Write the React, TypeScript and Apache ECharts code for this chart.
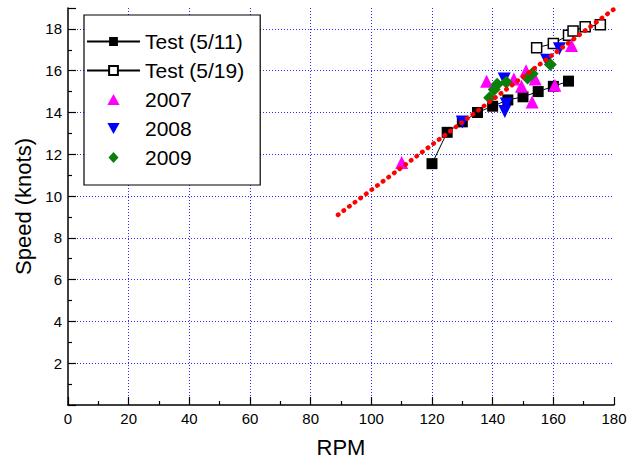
import React, { useEffect, useRef } from "react";
import * as echarts from "echarts";

// RPM / speed (knots) pairs
const test0511: [number, number][] = [
  [120, 11.55], [125, 13.05], [130, 13.55], [135, 14.0], [140, 14.3],
  [145, 14.6], [150, 14.75], [155, 15.0], [160, 15.25], [165, 15.5],
];
const test0519: [number, number][] = [
  [154.5, 17.1], [160, 17.3], [165, 17.7], [166.5, 17.9], [170.5, 18.1], [175.5, 18.2],
];
const data2007: [number, number][] = [
  [110, 11.6], [138, 15.5], [147, 15.6], [149.5, 15.25], [151, 16.0],
  [154, 15.6], [153, 14.5], [160.5, 15.3], [166, 17.2],
];
const data2008: [number, number][] = [
  [130, 13.55], [143.8, 15.6], [144.5, 14.4], [144, 14.05], [157.8, 16.5], [162, 17.05],
];
const data2009: [number, number][] = [
  [139, 14.7], [140.5, 15.1], [141.5, 15.35], [144.5, 15.45], [151.5, 15.65],
  [153, 15.85], [159, 16.3],
];
const fitLine: [number, number][] = [[89, 9.1], [180, 18.95]];

const FONT = "'Liberation Sans', Arial, sans-serif";
const ICON_UP = "path://M5,0L10,9L0,9Z";
const ICON_DOWN = "path://M0,0L10,0L5,9Z";
const ICON_DIAMOND = "path://M5,0L10,5.5L5,11L0,5.5Z";

const legendItems = [
  { name: "Test (5/11)" },
  { name: "Test (5/19)" },
  { name: "2007", icon: ICON_UP },
  { name: "2008", icon: ICON_DOWN },
  { name: "2009", icon: ICON_DIAMOND },
];

export default function App() {
  const ref = useRef<HTMLDivElement>(null);
  useEffect(() => {
    if (!ref.current) return;
    const chart = echarts.init(ref.current, undefined, { renderer: "svg" });
    const gridLine = { show: true, showMinLine: false, showMaxLine: false, lineStyle: { color: "#2a2aff", width: 1, type: [1, 2] } };
    chart.setOption({
      animation: false,
      backgroundColor: "#fff",
      textStyle: { fontFamily: FONT },
      grid: { left: 68, right: 23, top: 8, bottom: 55, containLabel: false },
      legend: {
        data: legendItems,
        orient: "vertical",
        left: 84,
        top: 15,
        itemWidth: 53,
        itemHeight: 11,
        itemGap: 8,
        symbolKeepAspect: true,
        padding: [16, 16, 17, 2],
        borderColor: "#000",
        borderWidth: 1.2,
        backgroundColor: "#fff",
        textStyle: { fontSize: 21, lineHeight: 21, color: "#000", fontFamily: FONT },
      },
      xAxis: {
        type: "value",
        min: 0,
        max: 180,
        interval: 20,
        name: "RPM",
        nameLocation: "middle",
        nameGap: 31,
        nameTextStyle: { fontSize: 22, color: "#000", fontFamily: FONT },
        axisLine: { show: true, onZero: false, lineStyle: { color: "#000", width: 1.5 } },
        axisTick: { show: true, inside: true, length: 8, lineStyle: { color: "#000", width: 1.2 } },
        minorTick: { show: true, splitNumber: 2, length: 4, lineStyle: { color: "#000", width: 1.2 } },
        axisLabel: { fontSize: 15, color: "#000", margin: 6, fontFamily: FONT },
        splitLine: gridLine,
      },
      yAxis: {
        type: "value",
        min: 0,
        max: 19,
        interval: 2,
        name: "Speed (knots)",
        nameLocation: "middle",
        nameGap: 34,
        nameTextStyle: { fontSize: 22, color: "#000", fontFamily: FONT },
        axisLine: { show: true, onZero: false, lineStyle: { color: "#000", width: 1.5 } },
        axisTick: { show: true, inside: true, length: 8, lineStyle: { color: "#000", width: 1.2 } },
        minorTick: { show: true, splitNumber: 2, length: 4, lineStyle: { color: "#000", width: 1.2 } },
        axisLabel: {
          fontSize: 15,
          color: "#000",
          margin: 6,
          fontFamily: FONT,
          formatter: (v: number) => (v === 0 || v === 19 ? "" : String(v)),
        },
        splitLine: gridLine,
      },
      series: [
        {
          name: "Test (5/11)",
          type: "line",
          data: test0511,
          symbol: "rect",
          symbolSize: 11,
          itemStyle: { color: "#000" },
          lineStyle: { color: "#000", width: 1 },
          z: 2,
        },
        {
          name: "Test (5/19)",
          type: "line",
          data: test0519,
          symbol: "rect",
          symbolSize: 10,
          itemStyle: { color: "#fff", borderColor: "#000", borderWidth: 1.5 },
          lineStyle: { color: "#000", width: 1 },
          z: 2,
        },
        {
          name: "2007",
          type: "scatter",
          data: data2007,
          symbol: "triangle",
          symbolSize: 13,
          itemStyle: { color: "#ff00ff", opacity: 1 },
          z: 3,
        },
        {
          name: "2008",
          type: "scatter",
          data: data2008,
          symbol: "triangle",
          symbolRotate: 180,
          symbolSize: 13,
          itemStyle: { color: "#0000ff", opacity: 1 },
          z: 3,
        },
        {
          name: "2009",
          type: "scatter",
          data: data2009,
          symbol: "diamond",
          symbolSize: 13,
          itemStyle: { color: "#0a7f0a", opacity: 1 },
          z: 3,
        },
        {
          name: "fit",
          type: "line",
          data: fitLine,
          symbol: "none",
          lineStyle: { color: "#ff0000", width: 4.5, type: [0.5, 6.5], cap: "round" },
          z: 4,
          silent: true,
        },
      ],
    });
    return () => chart.dispose();
  }, []);
  return (
    <div
      ref={ref}
      style={{ position: "fixed", left: 0, top: 0, width: 637, height: 463, background: "#fff" }}
    />
  );
}
